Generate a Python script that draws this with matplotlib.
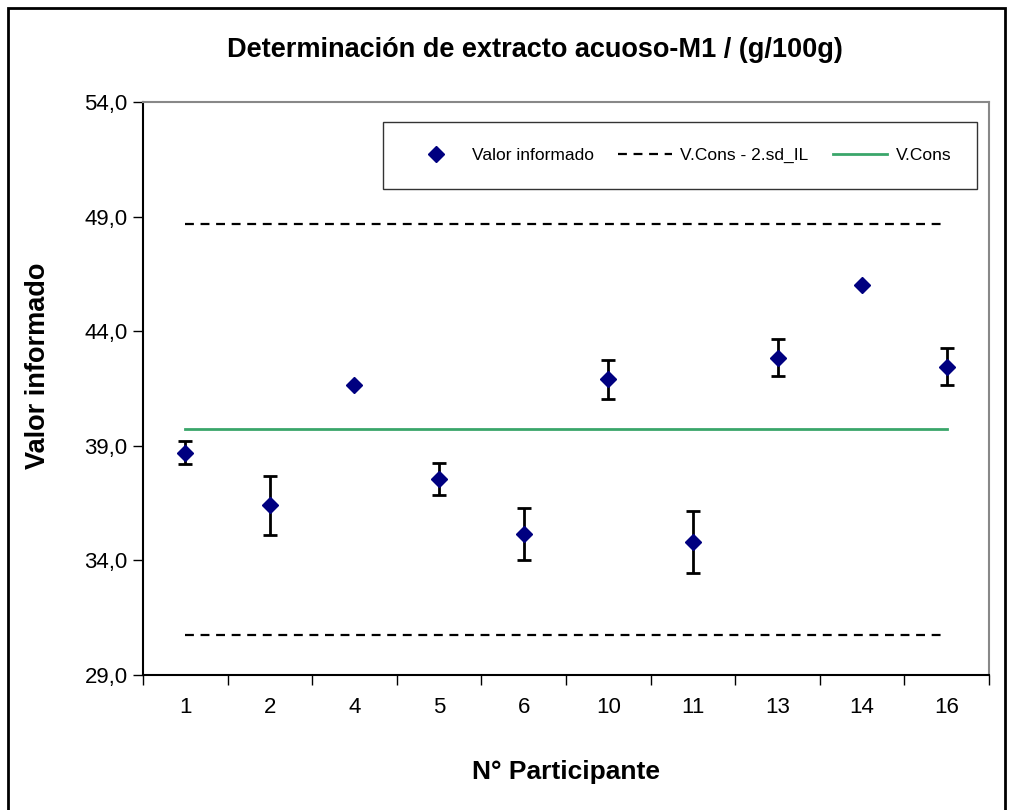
import matplotlib.pyplot as plt
import numpy as np

plt.rcParams['font.family'] = ['Liberation Sans', 'DejaVu Sans']

# data
participantes = ["1", "2", "4", "5", "6", "10", "11", "13", "14", "16"]
valores = [38.7, 36.4, 41.65, 37.55, 35.15, 41.9, 34.8, 42.85, 46.0, 42.45]
errores = [0.5, 1.3, 0.0, 0.7, 1.15, 0.85, 1.35, 0.8, 0.0, 0.8]
v_cons = 39.73
lim_sup = 48.7
lim_inf = 30.76

W, H = 1009, 810
fig = plt.figure(figsize=(W / 100, H / 100), dpi=100)
ax = fig.add_axes([0.1417, 0.1667, 0.8385, 0.7073])

x = np.arange(len(participantes))

# reference lines, from first to last participant
ax.plot([x[0], x[-1]], [lim_sup, lim_sup], color="black", linestyle=(0, (4, 3)),
        linewidth=1.6, label="V.Cons - 2.sd_IL")
ax.plot([x[0], x[-1]], [lim_inf, lim_inf], color="black", linestyle=(0, (4, 3)),
        linewidth=1.6)
ax.plot([x[0], x[-1]], [v_cons, v_cons], color="#3aa66a", linewidth=2, label="V.Cons")

# error bars only where there is one
err = np.array(errores)
mask = err > 0
ax.errorbar(x[mask], np.array(valores)[mask], yerr=err[mask], fmt="none",
            ecolor="black", elinewidth=2, capsize=5, capthick=2, zorder=3)
ax.plot(x, valores, linestyle="none", marker="D", color="#000080",
        markersize=8, label="Valor informado", zorder=4)

ax.set_xlim(-0.5, len(participantes) - 0.5)
ax.set_ylim(29, 54)
ax.set_yticks([29, 34, 39, 44, 49, 54])
ax.set_yticklabels(["29,0", "34,0", "39,0", "44,0", "49,0", "54,0"], fontsize=16)
ax.set_xticks(x)
ax.set_xticklabels(participantes, fontsize=16)
ax.set_xticks(np.arange(-0.5, len(participantes)), minor=True)
ax.tick_params(axis="x", which="major", length=0, pad=16)
ax.tick_params(axis="x", which="minor", length=7, width=1, direction="out")
ax.tick_params(axis="y", length=7, width=1, direction="out", pad=4)

ax.spines["left"].set_linewidth(1.5)
ax.spines["bottom"].set_linewidth(1.5)
ax.spines["right"].set_color("#888888")
ax.spines["top"].set_color("#888888")
ax.spines["right"].set_linewidth(1.5)
ax.spines["top"].set_linewidth(1.5)

fig.text(535 / W, 1 - 50 / H, "Determinación de extracto acuoso-M1 / (g/100g)",
         fontsize=19.5, fontweight="bold", ha="center", va="center")
ax.set_xlabel("N° Participante", fontsize=19, fontweight="bold", labelpad=30)
fig.text(38 / W, 1 - 366 / H, "Valor informado", fontsize=19.5,
         fontweight="bold", rotation=90, ha="center", va="center")

handles, labels = ax.get_legend_handles_labels()
order = [2, 0, 1]
leg = ax.legend([handles[i] for i in order], [labels[i] for i in order],
                ncol=3, loc="upper right", bbox_to_anchor=(0.986, 0.966),
                fontsize=12.5, frameon=True, fancybox=False, edgecolor="black",
                borderpad=1.5, handlelength=3.1, columnspacing=1.4,
                handletextpad=0.5, borderaxespad=0)
leg.get_frame().set_linewidth(1)

# outer frame of the figure
border = plt.Rectangle((0.008, -0.01), 0.988, 1.0, transform=fig.transFigure,
                       fill=False, edgecolor="black", linewidth=2)
fig.patches.append(border)

fig.savefig("out.png", dpi=100)
